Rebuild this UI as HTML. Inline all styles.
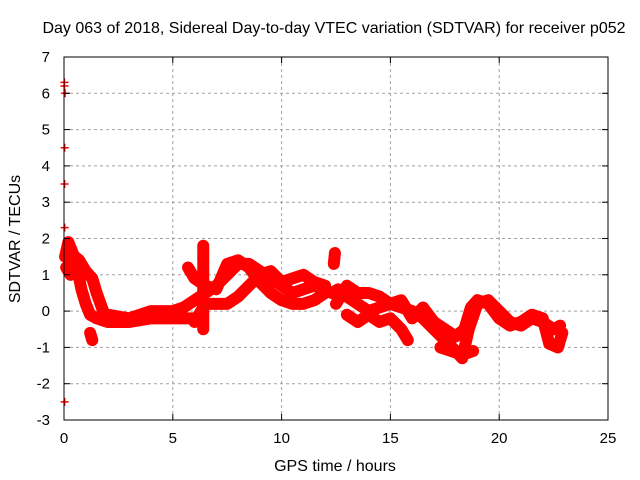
<!DOCTYPE html>
<html><head><meta charset="utf-8"><style>
body{margin:0;background:#fff}
svg{display:block;font-family:"Liberation Sans",sans-serif}
</style></head><body>
<svg id="chart" width="640" height="480" viewBox="0 0 640 480">
<rect width="640" height="480" fill="#fff"/>
<g id="grid"></g><g id="series"></g><g id="axes"></g>
<text x="334" y="33" text-anchor="middle" font-size="16">Day 063 of 2018, Sidereal Day-to-day VTEC variation (SDTVAR) for receiver p052</text>
<text x="335" y="471" text-anchor="middle" font-size="16">GPS time / hours</text>
<text transform="translate(20,239) rotate(-90)" text-anchor="middle" font-size="16">SDTVAR / TECUs</text>
</svg>
<script>
const xTicks=[0,5,10,15,20,25];
const yTicks=[-3,-2,-1,0,1,2,3,4,5,6,7];
const trackA=[[0.05,1.5],[0.2,1.9],[0.4,1.6],[0.6,1.2],[0.8,0.6],[1.0,0.2],[1.2,-0.1],[1.5,-0.2],[2,-0.3],[2.5,-0.3],[3,-0.3],[4,-0.2],[5,-0.2],[6,-0.2]];
const trackB=[[0.1,1.2],[0.3,1.0],[0.5,1.5],[0.7,1.4],[1.0,1.1],[1.3,0.9],[1.5,0.5],[1.8,0.0],[2.0,-0.2]];
const trackC=[[2,-0.1],[3,-0.2],[4,0],[5,0],[5.5,0.1],[6,0.3],[6.5,0.5],[7,0.7],[7.5,1.0],[8,1.3],[8.5,1.3],[9,1.1],[9.5,0.9],[10,0.7],[10.5,0.5],[11,0.6],[11.5,0.7],[12,0.6]];
const trackD=[[5.7,1.2],[6,0.9],[6.5,0.7],[7,0.6],[7.5,1.3],[8,1.4],[8.5,1.2],[9,0.8],[9.5,0.5],[10,0.3],[10.5,0.2],[11,0.2],[11.5,0.3],[12,0.5]];
const trackE=[[6,-0.3],[6.5,0.2],[7,0.2],[7.5,0.2],[8,0.4],[8.5,0.7],[9,1.0],[9.5,1.1],[10,0.8],[10.5,0.9],[11,1.0],[11.5,0.8],[12,0.7]];
const trackF=[[12.3,0.5],[12.6,0.6],[13,0.4],[13.5,0.2],[14,0],[14.5,0.1],[15,0.2],[15.5,0.1],[16,0],[16.5,-0.2],[17,-0.5],[17.5,-0.8],[18,-1.1],[18.3,-1.3],[18.6,-0.5],[19,0.2],[19.5,0.3],[20,0.0],[20.5,-0.3],[21,-0.4],[21.5,-0.2],[22,-0.3],[22.5,-0.5],[22.8,-0.4]];
const trackG=[[12.5,0.2],[13,0.7],[13.5,0.5],[14,0.5],[14.5,0.4],[15,0.2],[15.5,0.3],[16,-0.2],[16.5,0.1],[17,-0.3],[17.5,-0.5],[18,-0.7],[18.4,-0.5],[18.7,0.1],[19,0.3],[19.5,0.2],[20,-0.2],[20.5,-0.4],[21,-0.3],[21.5,-0.1],[22,-0.2],[22.3,-0.9],[22.7,-1.0],[22.9,-0.6]];
const trackH=[[13,-0.1],[13.5,-0.3],[14,-0.1],[14.5,-0.3],[15,-0.2],[15.5,-0.5],[15.8,-0.8]];
const trackI=[[17.3,-1.0],[17.8,-1.1],[18.3,-1.2],[18.8,-1.1]];
const trackJ=[[6.4,1.8],[6.4,0.8],[6.4,-0.5]];
const trackK=[[12.4,1.3],[12.45,1.6]];
const trackL=[[1.2,-0.6],[1.3,-0.8]];
const outliers=[[0.02,6.3],[0.02,6.2],[0.05,6.0],[0.03,4.5],[0.03,3.5],[0.03,2.3],[0.03,-2.5]];
const tracks=[trackA,trackB,trackC,trackD,trackE,trackF,trackG,trackH,trackI,trackJ,trackK,trackL];
const NS="http://www.w3.org/2000/svg";
const X0=64,X1=608,Y0=420,Y1=57;
const sx=h=>X0+(h-0)/(25-0)*(X1-X0);
const sy=v=>Y0-(v+3)/(10)*(Y0-Y1);
function mk(t,a){const e=document.createElementNS(NS,t);for(const k in a)e.setAttribute(k,a[k]);return e;}
const grid=document.getElementById('grid'),axes=document.getElementById('axes'),ser=document.getElementById('series');
xTicks.forEach(t=>{
 if(t>0&&t<25){const l=mk('line',{x1:sx(t),x2:sx(t),y1:Y1,y2:Y0,stroke:'#a0a0a0','stroke-dasharray':'3,3'});
 
 grid.appendChild(l);}
 axes.appendChild(mk('line',{x1:sx(t),x2:sx(t),y1:Y0,y2:Y0-6,stroke:'#000'}));
 axes.appendChild(mk('line',{x1:sx(t),x2:sx(t),y1:Y1,y2:Y1+6,stroke:'#000'}));
 const tx=mk('text',{x:sx(t),y:443,'text-anchor':'middle','font-size':15});tx.textContent=t;
 
 axes.appendChild(tx);
});
yTicks.forEach(t=>{
 if(t>-3&&t<7){const l=mk('line',{x1:X0,x2:X1,y1:sy(t),y2:sy(t),stroke:'#a0a0a0','stroke-dasharray':'3,3'});
 
 grid.appendChild(l);}
 axes.appendChild(mk('line',{x1:X0,x2:X0+6,y1:sy(t),y2:sy(t),stroke:'#000'}));
 axes.appendChild(mk('line',{x1:X1,x2:X1-6,y1:sy(t),y2:sy(t),stroke:'#000'}));
 const tx=mk('text',{x:50,y:sy(t)+5,'text-anchor':'end','font-size':15});tx.textContent=t;
 
 axes.appendChild(tx);
});
const frame=mk('rect',{x:X0,y:Y1,width:X1-X0,height:Y0-Y1,fill:'none',stroke:'#000'});

axes.appendChild(frame);
function plus(h,v){return `M${sx(h)-4},${sy(v)}h8M${sx(h)},${sy(v)-4}v8`;}
tracks.forEach((tr,i)=>{
 const p=mk('polyline',{points:tr.map(d=>sx(d[0])+','+sy(d[1])).join(' '),fill:'none',stroke:'#ff0000','stroke-width':12,'stroke-linejoin':'round','stroke-linecap':'round'});
 
 ser.appendChild(p);
 const m=mk('path',{d:tr.map(d=>plus(d[0],d[1])).join(''),stroke:'#ff0000','stroke-width':1.5,fill:'none'});
 
 ser.appendChild(m);
});
const o=mk('path',{d:outliers.map(d=>plus(d[0],d[1])).join(''),stroke:'#ff0000','stroke-width':1.5,fill:'none'});

ser.appendChild(o);
</script>
</body></html>
